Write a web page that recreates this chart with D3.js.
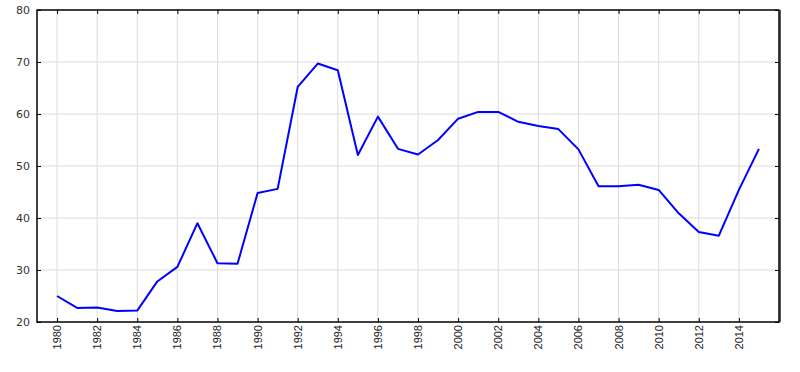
<!DOCTYPE html>
<html>
<head>
<meta charset="utf-8">
<script src="https://cdn.jsdelivr.net/npm/d3@7"></script>
<style>
  body { margin: 0; background: #fff; }
  svg { display: block; }
</style>
</head>
<body>
<div id="chart"></div>
<script>
// data
var years = [1980, 1981, 1982, 1983, 1984, 1985, 1986, 1987, 1988, 1989,
             1990, 1991, 1992, 1993, 1994, 1995, 1996, 1997, 1998, 1999,
             2000, 2001, 2002, 2003, 2004, 2005, 2006, 2007, 2008, 2009,
             2010, 2011, 2012, 2013, 2014, 2015];
var values = [25.0, 22.7, 22.8, 22.1, 22.2, 27.8, 30.6, 39.0, 31.3, 31.2,
              44.8, 45.6, 65.2, 69.7, 68.4, 52.1, 59.5, 53.3, 52.2, 55.0,
              59.1, 60.4, 60.4, 58.5, 57.7, 57.1, 53.2, 46.1, 46.1, 46.4,
              45.4, 40.9, 37.3, 36.6, 45.4, 53.3];
var xTicks = d3.range(1980, 2015, 2);
var yTicks = [20, 30, 40, 50, 60, 70, 80];

var svgWidth = 800, svgHeight = 372;
var margin = { top: 10, right: 21, bottom: 50, left: 37 };
var width = svgWidth - margin.left - margin.right;
var height = svgHeight - margin.top - margin.bottom;

var svg = d3.select("#chart").append("svg")
  .attr("width", svgWidth)
  .attr("height", svgHeight);

var g = svg.append("g")
  .attr("transform", `translate(${margin.left}, ${margin.top})`);

var x = d3.scaleLinear().domain([1979, 2016]).range([0, width]);
var y = d3.scaleLinear().domain([20, 80]).range([height, 0]);

// grid
g.append("g").selectAll("line")
  .data(xTicks).enter().append("line")
  .attr("x1", d => x(d)).attr("x2", d => x(d))
  .attr("y1", 0).attr("y2", height)
  .attr("stroke", "#dcdcdc");
g.append("g").selectAll("line")
  .data(yTicks.slice(1, -1)).enter().append("line")
  .attr("x1", 0).attr("x2", width)
  .attr("y1", d => y(d)).attr("y2", d => y(d))
  .attr("stroke", "#dcdcdc");

// axes with inside ticks
g.append("g")
  .attr("transform", `translate(0, ${height})`)
  .call(d3.axisTop(x).tickValues(xTicks).tickSize(4).tickFormat(""))
  .select(".domain").remove();
g.append("g")
  .call(d3.axisBottom(x).tickValues(xTicks).tickSize(4).tickFormat(""))
  .select(".domain").remove();
g.append("g")
  .call(d3.axisRight(y).tickValues(yTicks).tickSize(4).tickFormat(""))
  .select(".domain").remove();
g.append("g")
  .attr("transform", `translate(${width}, 0)`)
  .call(d3.axisLeft(y).tickValues(yTicks).tickSize(4).tickFormat(""))
  .select(".domain").remove();
g.selectAll(".tick line").attr("stroke", "#000");

// frame
g.append("rect")
  .attr("x", 0).attr("y", 0)
  .attr("width", width).attr("height", height)
  .attr("fill", "none")
  .attr("stroke", "#000")
  .attr("stroke-width", 1.5);
g.append("line")
  .attr("x1", width + 1).attr("x2", width + 1)
  .attr("y1", 0).attr("y2", height)
  .attr("stroke", "#222")
  .attr("stroke-width", 1.5);

// tick labels
g.append("g").selectAll("text")
  .data(yTicks).enter().append("text")
  .attr("x", -7)
  .attr("y", d => y(d))
  .attr("dy", "0.36em")
  .attr("text-anchor", "end")
  .attr("font-family", "DejaVu Sans, sans-serif")
  .attr("font-size", "11px")
  .attr("fill", "#333")
  .text(d => d);

g.append("g").selectAll("text")
  .data(xTicks).enter().append("text")
  .attr("transform", d => `translate(${x(d)}, ${height + 3}) rotate(-90)`)
  .attr("dy", "0.36em")
  .attr("text-anchor", "end")
  .attr("font-family", "Arial, Liberation Sans, sans-serif")
  .attr("font-size", "11px")
  .attr("fill", "#222")
  .text(d => d);

// line
var line = d3.line()
  .x((d, i) => x(years[i]))
  .y(d => y(d));

g.append("path")
  .datum(values)
  .attr("fill", "none")
  .attr("stroke", "#0000ff")
  .attr("stroke-width", 2)
  .attr("stroke-linejoin", "round")
  .attr("d", line);
</script>
</body>
</html>
